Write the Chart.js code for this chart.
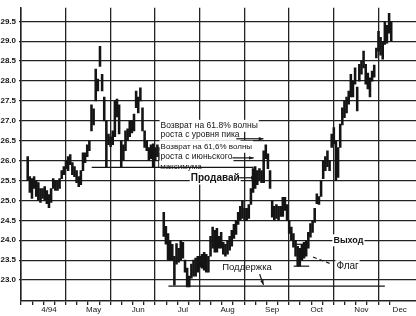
<!DOCTYPE html>
<html>
<head>
<meta charset="utf-8">
<script src="https://cdn.jsdelivr.net/npm/chart.js@4.4.1/dist/chart.umd.min.js"></script>
<style>
  body { margin: 0; background: #fff; }
</style>
</head>
<body>
<canvas id="chart" width="416" height="316"></canvas>
<script>
// month labels, one month = 21 trading days on the x axis
const months = ['4/94', 'May', 'Jun', 'Jul', 'Aug', 'Sep', 'Oct', 'Nov', 'Dec'];
const daysPerMonth = 21;
const yTicks = [23.0, 23.5, 24.0, 24.5, 25.0, 25.5, 26.0, 26.5, 27.0, 27.5, 28.0, 28.5, 29.0, 29.5];

// daily highs / lows (null = no trading)
const highs = [
  26.1, 25.6, 25.55, 25.6, 25.5, 25.45, 25.3, 25.3, 25.35, 25.25, 25.15, 25.3, 25.55, 25.5, 25.5, 25.55, 25.75, 25.85, 26.0, 26.1, 26.15,
  25.95, 25.85, 25.75, 25.6, 25.75, 26.2, 26.2, 26.4, 26.5, 27.4, 27.3, 28.3, 28.05, 28.87, 28.17, 27.6, 27.0, 26.67, 26.6, 26.75, 27.5,
  27.55, 27.4, 26.5, 26.4, 26.75, 26.8, 27.0, 27.0, 27.17, 27.75, 27.6, 27.83, 27.33, 26.75, 26.5, 26.33, 26.4, 26.42, 26.33, 26.4, 26.33,
  null, 24.7, 24.35, 24.17, 24.0, 23.9, 23.6, 23.92, 23.8, 24.0, 23.95, 23.5, 23.3, 23.1, 23.4, 23.5, 23.55, 23.6, 23.6, 23.65,
  23.7, 23.65, 23.6, 24.1, 24.33, 24.25, 24.3, 24.1, 24.2, 23.95, 23.9, 24.0, 24.1, 24.25, 24.4, 24.5, 24.7, 24.85, 25.0, 24.8, 24.8,
  24.9, 25.3, 25.8, 25.85, 25.75, 25.8, 25.75, 26.25, 26.4, 26.17, 25.75, 25.0, 24.85, 24.9, 24.85, 24.85, 25.08, 25.08, 24.9, 24.5, 24.33,
  24.17, 24.0, 23.85, 23.8, 23.9, 23.95, 24.0, 24.2, 24.42, 24.5, 24.8, 25.17, 25.1, 25.5, 26.0, 26.1, 26.25, 26.0, 26.67, 26.83, 26.5,
  26.33, 26.92, 27.33, 27.5, 27.6, 27.75, 28.17, 28.0, 28.33, 27.85, 28.42, 28.5, 28.75, 28.42, 28.2, 28.08, 28.25, 28.4, 28.83, 29.25, 29.1,
  29.0, 29.5, 29.4, 29.7, 29.5
];
const lows = [
  25.5, 25.2, 25.05, 25.3, 25.1, 25.0, 24.95, 25.05, 25.0, 24.92, 24.82, 24.95, 25.3, 25.25, 25.25, 25.3, 25.55, 25.65, 25.8, 25.75, 25.9,
  25.65, 25.6, 25.45, 25.35, 25.4, 25.75, 25.95, 26.1, 26.25, 26.75, 26.9, 27.5, 27.75, 28.37, 27.75, 27.0, 25.85, 26.4, 26.35, 26.4, 26.6,
  27.1, 26.67, 25.83, 26.0, 26.25, 26.5, 26.6, 26.7, 26.75, 27.33, 27.2, 27.5, 26.75, 26.33, 26.25, 26.0, 26.05, 25.83, 26.0, 26.1, 25.83,
  null, 24.1, 23.9, 23.5, 23.5, 23.5, 22.87, 23.4, 23.45, 23.5, 23.55, 23.2, 22.83, 22.83, 23.05, 23.1, 23.1, 23.2, 23.33, 23.3,
  23.25, 23.2, 23.2, 23.6, 23.8, 23.7, 23.7, 23.8, 23.8, 23.65, 23.6, 23.65, 23.75, 23.85, 24.05, 24.15, 24.4, 24.5, 24.55, 24.5, 24.5,
  24.55, 24.9, 25.2, 25.3, 25.4, 25.5, 25.45, 25.45, 26.05, 25.8, 25.3, 24.58, 24.5, 24.55, 24.5, 24.6, 24.6, 24.75, 24.5, 24.17, 24.0,
  23.83, 23.6, 23.35, 23.35, 23.5, 23.55, 23.6, 23.8, 24.08, 24.2, 24.45, 24.92, 24.9, 25.1, 25.55, 25.75, 25.85, 25.75, 26.33, 26.42, 25.5,
  25.58, 26.33, 26.9, 27.08, 27.2, 27.42, 27.6, 27.6, 27.92, 27.25, 28.0, 28.17, 28.33, 27.92, 27.8, 27.6, 28.0, 28.1, 28.58, 28.75, 28.65,
  28.55, 28.92, 28.95, 29.2, 29.0
];

const ink = '#141414';
const sans = '"Liberation Sans", Arial, sans-serif';

var bars = [];
highs.forEach(function (h, i) {
  if (h != null) bars.push({ x: i + 0.5, y: [lows[i], h] });
});

// weekly ticks; every 4th is a month boundary, labels sit mid-month
var xTicks = [], xLabels = [];
for (var k = 0; k <= 33; k++) {
  xTicks.push({ value: k * daysPerMonth / 4 });
  xLabels.push(k % 4 === 2 ? months[(k - 2) / 4] : '');
}
// last month is cut short, its label sits nearer the edge
xTicks.push({ value: 175.5 });
xLabels.push(months[8]);

// texts and pointers, placed in data units (day, price)
const notes = [
  { text: 'Возврат на 61.8% волны', x: 63, y: 26.875, font: '8.5px ' + sans },
  { text: 'роста с уровня пика', x: 63, y: 26.65, font: '8.5px ' + sans },
  { text: 'Возврат на 61,6% волны', x: 63, y: 26.35, font: '8px ' + sans },
  { text: 'роста с июньского', x: 63, y: 26.1, font: '8.5px ' + sans },
  { text: 'максимума', x: 62.8, y: 25.85, font: '8px ' + sans },
  { text: 'Продавай', x: 77.2, y: 25.55, font: 'bold 10px ' + sans },
  { text: 'Поддержка', x: 92, y: 23.33, font: '9.5px ' + sans, plain: true },
  { text: 'Выход', x: 144.3, y: 24.0, font: 'bold 9px ' + sans },
  { text: 'Флаг', x: 145.7, y: 23.35, font: '10px ' + sans }
];
const lines = [
  { from: [30.6, 25.83], to: [106.8, 25.83] },
  { from: [66.7, 22.85], to: [168.5, 22.85] },
  { from: [126.5, 23.9], to: [132.9, 23.9] },
  { from: [125.6, 23.35], to: [132.9, 23.35] },
  { from: [98.6, 26.55], to: [111.4, 26.55], head: true },
  { from: [96.8, 26.07], to: [106.8, 26.07], head: true },
  { from: [100, 25.57], to: [107.8, 25.57], head: true },
  { from: [109.6, 23.15], to: [111.4, 22.88], head: true },
  { from: [134.7, 23.58], to: [142.5, 23.42], dash: true }
];

const notesPlugin = {
  id: 'notes',
  afterDatasetsDraw: function (chart) {
    var ctx = chart.ctx, x = chart.scales.x, y = chart.scales.y;
    ctx.save();
    ctx.textBaseline = 'middle';
    ctx.textAlign = 'left';
    notes.forEach(function (n) {
      ctx.font = n.font;
      var px = x.getPixelForValue(n.x), py = y.getPixelForValue(n.y);
      var w = ctx.measureText(n.text).width;
      if (!n.plain) {
        ctx.fillStyle = '#fff';
        ctx.fillRect(px - 1, py - 6, w + 2, 12);
      }
      ctx.fillStyle = ink;
      ctx.fillText(n.text, px, py);
    });
    ctx.strokeStyle = ink;
    ctx.fillStyle = ink;
    ctx.lineWidth = 1.2;
    lines.forEach(function (l) {
      var x1 = x.getPixelForValue(l.from[0]), y1 = y.getPixelForValue(l.from[1]);
      var x2 = x.getPixelForValue(l.to[0]), y2 = y.getPixelForValue(l.to[1]);
      ctx.setLineDash(l.dash ? [4, 3] : []);
      ctx.beginPath();
      ctx.moveTo(x1, y1);
      ctx.lineTo(x2, y2);
      ctx.stroke();
      if (l.head) {
        var a = Math.atan2(y2 - y1, x2 - x1);
        ctx.beginPath();
        ctx.moveTo(x2, y2);
        ctx.lineTo(x2 - 5 * Math.cos(a - 0.35), y2 - 5 * Math.sin(a - 0.35));
        ctx.lineTo(x2 - 5 * Math.cos(a + 0.35), y2 - 5 * Math.sin(a + 0.35));
        ctx.closePath();
        ctx.fill();
      }
    });
    ctx.restore();
  }
};

new Chart(document.getElementById('chart'), {
  type: 'bar',
  data: {
    datasets: [{
      data: bars,
      backgroundColor: ink,
      borderWidth: 0,
      barThickness: 1.9
    }]
  },
  options: {
    responsive: false,
    animation: false,
    devicePixelRatio: 1,
    plugins: { legend: { display: false }, tooltip: { enabled: false } },
    layout: { padding: 0 },
    scales: {
      x: {
        type: 'linear',
        min: 0,
        max: 180.5,
        afterBuildTicks: function (axis) { axis.ticks = xTicks.slice(); },
        afterFit: function (axis) { axis.height = 15; },
        grid: {
          color: function (c) { return c.index % 4 === 0 && c.index < 34 ? '#222' : 'transparent'; },
          tickColor: function (c) { return c.index < 34 ? '#222' : 'transparent'; },
          lineWidth: 1.3,
          tickLength: 4
        },
        border: { color: '#222', width: 1.5 },
        ticks: {
          autoSkip: false,
          maxRotation: 0,
          padding: 0,
          color: ink,
          font: { family: sans, size: 8, lineHeight: 1.2 },
          callback: function (v, i) { return xLabels[i]; }
        }
      },
      y: {
        min: 22.475,
        max: 29.84,
        afterBuildTicks: function (axis) {
          axis.ticks = [{ value: 22.475 }].concat(yTicks.map(function (v) { return { value: v }; }), [{ value: 29.84 }]);
        },
        afterFit: function (axis) { axis.width = 21; },
        grid: { color: '#222', lineWidth: 1.3, tickLength: 2 },
        border: { color: '#222', width: 1.5 },
        ticks: {
          padding: 3,
          color: ink,
          font: { family: sans, size: 8, weight: 'bold' },
          callback: function (v) { return yTicks.indexOf(v) >= 0 ? v.toFixed(1) : null; }
        }
      }
    }
  },
  plugins: [notesPlugin]
});
</script>
</body>
</html>
